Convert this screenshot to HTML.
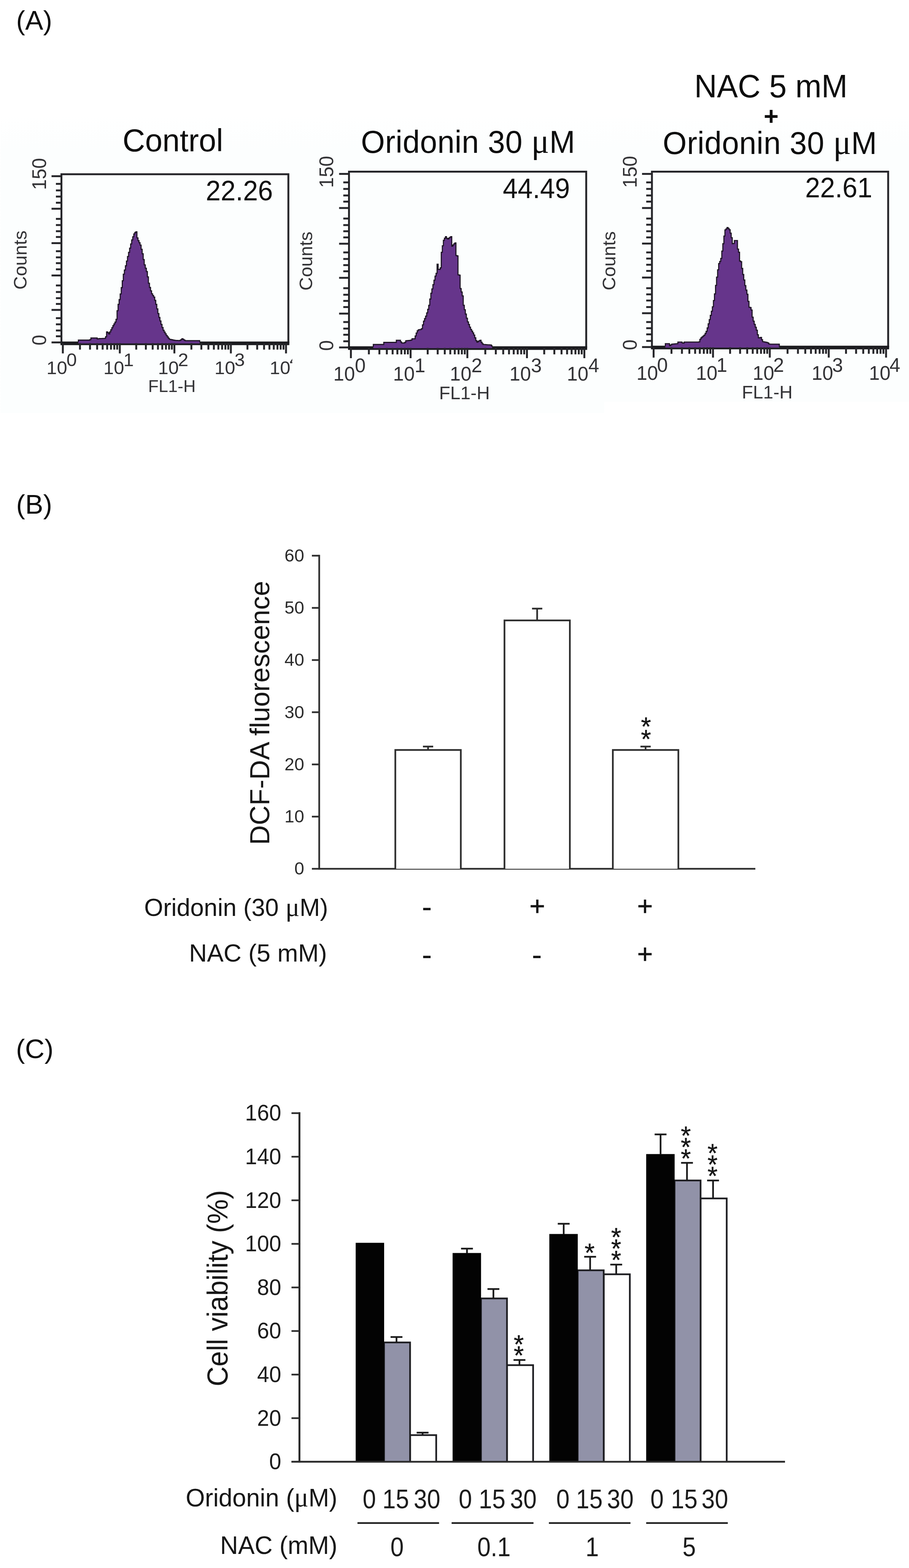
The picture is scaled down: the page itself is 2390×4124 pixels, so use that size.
<!DOCTYPE html>
<html lang="en">
<head>
<meta charset="utf-8">
<title>Oridonin, NAC and ROS: DCF-DA fluorescence and cell viability</title>
<style>
html, body { margin: 0; padding: 0; background: #ffffff; }
body { width: 2390px; height: 4124px; }
svg { display: block; font-family: "Liberation Sans", sans-serif; }
svg text { white-space: pre; }
</style>
</head>
<body>
<svg width="2390" height="4124" viewBox="0 0 2390 4124" role="img" aria-label="Figure: oridonin-induced ROS and cell viability with NAC">
<rect x="0" y="0" width="2390" height="4124" fill="#ffffff"/>
<defs><linearGradient id="bgA" x1="0" y1="0" x2="0" y2="1"><stop offset="0" stop-color="#ffffff"/><stop offset="0.12" stop-color="#fcfefe"/><stop offset="1" stop-color="#fcfefe"/></linearGradient></defs>
<rect x="1.5" y="300" width="1587" height="786" fill="url(#bgA)"/>
<rect x="1588" y="300" width="802" height="756" fill="url(#bgA)"/>
<text x="42.5" y="77.8" font-size="71" text-anchor="start" fill="#0d0d0d" font-weight="normal">(A)</text>
<text transform="translate(322.3 398.3) scale(1 1.02)" font-size="82" text-anchor="start" fill="#0d0d0d" font-weight="normal">Control</text>
<text transform="translate(949.0 402.3) scale(1 1.03)" font-size="81" text-anchor="start" fill="#0d0d0d" font-weight="normal" textLength="563" lengthAdjust="spacing">Oridonin 30 <tspan font-family='"Liberation Serif", "DejaVu Serif", serif' font-size="1.08em">μ</tspan>M</text>
<text transform="translate(2027.0 256.4) scale(1 1.04)" font-size="82.4" text-anchor="middle" fill="#0d0d0d" font-weight="normal">NAC 5 mM</text>
<text x="2027.6" y="327.7" font-size="67" text-anchor="middle" fill="#0d0d0d" font-weight="bold">+</text>
<text transform="translate(1742.6 404.8) scale(1 1.03)" font-size="81" text-anchor="start" fill="#0d0d0d" font-weight="normal" textLength="563" lengthAdjust="spacing">Oridonin 30 <tspan font-family='"Liberation Serif", "DejaVu Serif", serif' font-size="1.08em">μ</tspan>M</text>
<defs><clipPath id="clipA1"><rect x="0" y="900" width="768.5" height="200"/></clipPath></defs>
<path d="M161.5 902.5 L161.5 458.3 L758.2 458.3 L758.2 902.5" fill="none" stroke="#26262a" stroke-width="5"/>
<line x1="159.0" y1="903.0" x2="760.7" y2="903.0" stroke="#1b1b1f" stroke-width="9.5" stroke-linecap="butt"/>
<polygon points="206.0,903.3 206.0,894.5 208.8,894.5 208.8,894.5 211.5,894.5 211.5,894.5 214.2,894.5 214.2,894.5 217.0,894.5 217.0,894.5 219.8,894.5 219.8,894.5 222.5,894.5 222.5,894.5 225.2,894.5 225.2,894.5 228.0,894.5 228.0,894.5 230.8,894.5 230.8,894.5 233.5,894.5 233.5,894.5 236.2,894.5 236.2,893.4 239.0,893.4 239.0,889.0 241.8,889.0 241.8,889.0 244.5,889.0 244.5,889.0 247.2,889.0 247.2,889.0 250.0,889.0 250.0,889.0 252.8,889.0 252.8,889.0 255.5,889.0 255.5,891.4 258.2,891.4 258.2,890.9 261.0,890.9 261.0,890.5 263.8,890.5 263.8,890.4 266.5,890.4 266.5,890.3 269.2,890.3 269.2,890.2 272.0,890.2 272.0,890.1 274.8,890.1 274.8,889.8 277.5,889.8 277.5,885.7 280.2,885.7 280.2,873.0 283.0,873.0 283.0,875.0 285.8,875.0 285.8,878.4 288.5,878.4 288.5,872.9 291.2,872.9 291.2,867.4 294.0,867.4 294.0,861.9 296.8,861.9 296.8,856.5 299.5,856.5 299.5,851.8 302.2,851.8 302.2,847.1 305.0,847.1 305.0,839.9 307.8,839.9 307.8,817.1 310.5,817.1 310.5,800.3 313.2,800.3 313.2,788.0 316.0,788.0 316.0,773.2 318.8,773.2 318.8,756.5 321.5,756.5 321.5,738.4 324.2,738.4 324.2,721.2 327.0,721.2 327.0,710.2 329.8,710.2 329.8,699.0 332.5,699.0 332.5,686.7 335.2,686.7 335.2,674.6 338.0,674.6 338.0,663.7 340.8,663.7 340.8,652.7 343.5,652.7 343.5,641.7 346.2,641.7 346.2,631.0 349.0,631.0 349.0,622.7 351.8,622.7 351.8,615.1 354.5,615.1 354.5,611.5 357.2,611.5 357.2,609.6 360.0,609.6 360.0,625.6 362.8,625.6 362.8,632.9 365.5,632.9 365.5,638.4 368.2,638.4 368.2,644.7 371.0,644.7 371.0,655.7 373.8,655.7 373.8,667.4 376.5,667.4 376.5,682.6 379.2,682.6 379.2,696.7 382.0,696.7 382.0,705.4 384.8,705.4 384.8,714.2 387.5,714.2 387.5,728.2 390.2,728.2 390.2,744.8 393.0,744.8 393.0,756.0 395.8,756.0 395.8,764.8 398.5,764.8 398.5,772.7 401.2,772.7 401.2,777.1 404.0,777.1 404.0,781.4 406.8,781.4 406.8,790.0 409.5,790.0 409.5,800.5 412.2,800.5 412.2,812.4 415.0,812.4 415.0,824.7 417.8,824.7 417.8,834.8 420.5,834.8 420.5,844.1 423.2,844.1 423.2,853.1 426.0,853.1 426.0,861.3 428.8,861.3 428.8,868.7 431.5,868.7 431.5,873.3 434.2,873.3 434.2,877.9 437.0,877.9 437.0,882.3 439.8,882.3 439.8,886.0 442.5,886.0 442.5,889.6 445.2,889.6 445.2,892.4 448.0,892.4 448.0,893.0 450.8,893.0 450.8,893.5 453.5,893.5 453.5,894.1 456.2,894.1 456.2,894.6 459.0,894.6 459.0,895.1 461.8,895.1 461.8,895.3 464.5,895.3 464.5,895.5 467.2,895.5 467.2,895.7 470.0,895.7 470.0,895.9 472.8,895.9 472.8,895.2 475.5,895.2 475.5,893.2 478.2,893.2 478.2,891.0 481.0,891.0 481.0,892.7 483.8,892.7 483.8,894.7 486.5,894.7 486.5,896.0 489.2,896.0 489.2,896.0 492.0,896.0 492.0,896.0 494.8,896.0 494.8,896.0 497.5,896.0 497.5,896.0 500.2,896.0 500.2,896.0 503.0,896.0 503.0,896.0 505.8,896.0 505.8,896.0 508.5,896.0 508.5,896.0 511.2,896.0 511.2,896.0 514.0,896.0 514.0,896.0 516.8,896.0 516.8,896.0 519.5,896.0 519.5,896.0 522.2,896.0 522.2,896.0 525.0,896.0 525.0,903.3" fill="#66358b"/><polyline points="206.0,899.5 206.0,894.5 208.8,894.5 208.8,894.5 211.5,894.5 211.5,894.5 214.2,894.5 214.2,894.5 217.0,894.5 217.0,894.5 219.8,894.5 219.8,894.5 222.5,894.5 222.5,894.5 225.2,894.5 225.2,894.5 228.0,894.5 228.0,894.5 230.8,894.5 230.8,894.5 233.5,894.5 233.5,894.5 236.2,894.5 236.2,893.4 239.0,893.4 239.0,889.0 241.8,889.0 241.8,889.0 244.5,889.0 244.5,889.0 247.2,889.0 247.2,889.0 250.0,889.0 250.0,889.0 252.8,889.0 252.8,889.0 255.5,889.0 255.5,891.4 258.2,891.4 258.2,890.9 261.0,890.9 261.0,890.5 263.8,890.5 263.8,890.4 266.5,890.4 266.5,890.3 269.2,890.3 269.2,890.2 272.0,890.2 272.0,890.1 274.8,890.1 274.8,889.8 277.5,889.8 277.5,885.7 280.2,885.7 280.2,873.0 283.0,873.0 283.0,875.0 285.8,875.0 285.8,878.4 288.5,878.4 288.5,872.9 291.2,872.9 291.2,867.4 294.0,867.4 294.0,861.9 296.8,861.9 296.8,856.5 299.5,856.5 299.5,851.8 302.2,851.8 302.2,847.1 305.0,847.1 305.0,839.9 307.8,839.9 307.8,817.1 310.5,817.1 310.5,800.3 313.2,800.3 313.2,788.0 316.0,788.0 316.0,773.2 318.8,773.2 318.8,756.5 321.5,756.5 321.5,738.4 324.2,738.4 324.2,721.2 327.0,721.2 327.0,710.2 329.8,710.2 329.8,699.0 332.5,699.0 332.5,686.7 335.2,686.7 335.2,674.6 338.0,674.6 338.0,663.7 340.8,663.7 340.8,652.7 343.5,652.7 343.5,641.7 346.2,641.7 346.2,631.0 349.0,631.0 349.0,622.7 351.8,622.7 351.8,615.1 354.5,615.1 354.5,611.5 357.2,611.5 357.2,609.6 360.0,609.6 360.0,625.6 362.8,625.6 362.8,632.9 365.5,632.9 365.5,638.4 368.2,638.4 368.2,644.7 371.0,644.7 371.0,655.7 373.8,655.7 373.8,667.4 376.5,667.4 376.5,682.6 379.2,682.6 379.2,696.7 382.0,696.7 382.0,705.4 384.8,705.4 384.8,714.2 387.5,714.2 387.5,728.2 390.2,728.2 390.2,744.8 393.0,744.8 393.0,756.0 395.8,756.0 395.8,764.8 398.5,764.8 398.5,772.7 401.2,772.7 401.2,777.1 404.0,777.1 404.0,781.4 406.8,781.4 406.8,790.0 409.5,790.0 409.5,800.5 412.2,800.5 412.2,812.4 415.0,812.4 415.0,824.7 417.8,824.7 417.8,834.8 420.5,834.8 420.5,844.1 423.2,844.1 423.2,853.1 426.0,853.1 426.0,861.3 428.8,861.3 428.8,868.7 431.5,868.7 431.5,873.3 434.2,873.3 434.2,877.9 437.0,877.9 437.0,882.3 439.8,882.3 439.8,886.0 442.5,886.0 442.5,889.6 445.2,889.6 445.2,892.4 448.0,892.4 448.0,893.0 450.8,893.0 450.8,893.5 453.5,893.5 453.5,894.1 456.2,894.1 456.2,894.6 459.0,894.6 459.0,895.1 461.8,895.1 461.8,895.3 464.5,895.3 464.5,895.5 467.2,895.5 467.2,895.7 470.0,895.7 470.0,895.9 472.8,895.9 472.8,895.2 475.5,895.2 475.5,893.2 478.2,893.2 478.2,891.0 481.0,891.0 481.0,892.7 483.8,892.7 483.8,894.7 486.5,894.7 486.5,896.0 489.2,896.0 489.2,896.0 492.0,896.0 492.0,896.0 494.8,896.0 494.8,896.0 497.5,896.0 497.5,896.0 500.2,896.0 500.2,896.0 503.0,896.0 503.0,896.0 505.8,896.0 505.8,896.0 508.5,896.0 508.5,896.0 511.2,896.0 511.2,896.0 514.0,896.0 514.0,896.0 516.8,896.0 516.8,896.0 519.5,896.0 519.5,896.0 522.2,896.0 522.2,896.0 525.0,896.0 525.0,899.5" fill="none" stroke="#1d1424" stroke-width="2.8" stroke-linejoin="miter"/>
<line x1="135.5" y1="463.4" x2="161.5" y2="463.4" stroke="#26262a" stroke-width="5" stroke-linecap="butt"/>
<line x1="147.0" y1="483.6" x2="161.5" y2="483.6" stroke="#26262a" stroke-width="5" stroke-linecap="butt"/>
<line x1="147.0" y1="500.8" x2="161.5" y2="500.8" stroke="#26262a" stroke-width="5" stroke-linecap="butt"/>
<line x1="147.0" y1="517.0" x2="161.5" y2="517.0" stroke="#26262a" stroke-width="5" stroke-linecap="butt"/>
<line x1="147.0" y1="533.2" x2="161.5" y2="533.2" stroke="#26262a" stroke-width="5" stroke-linecap="butt"/>
<line x1="135.5" y1="549.0" x2="161.5" y2="549.0" stroke="#26262a" stroke-width="5" stroke-linecap="butt"/>
<line x1="147.0" y1="575.7" x2="161.5" y2="575.7" stroke="#26262a" stroke-width="5" stroke-linecap="butt"/>
<line x1="147.0" y1="591.9" x2="161.5" y2="591.9" stroke="#26262a" stroke-width="5" stroke-linecap="butt"/>
<line x1="147.0" y1="608.1" x2="161.5" y2="608.1" stroke="#26262a" stroke-width="5" stroke-linecap="butt"/>
<line x1="147.0" y1="623.3" x2="161.5" y2="623.3" stroke="#26262a" stroke-width="5" stroke-linecap="butt"/>
<line x1="135.5" y1="639.5" x2="161.5" y2="639.5" stroke="#26262a" stroke-width="5" stroke-linecap="butt"/>
<line x1="147.0" y1="660.7" x2="161.5" y2="660.7" stroke="#26262a" stroke-width="5" stroke-linecap="butt"/>
<line x1="147.0" y1="676.9" x2="161.5" y2="676.9" stroke="#26262a" stroke-width="5" stroke-linecap="butt"/>
<line x1="147.0" y1="692.1" x2="161.5" y2="692.1" stroke="#26262a" stroke-width="5" stroke-linecap="butt"/>
<line x1="147.0" y1="708.3" x2="161.5" y2="708.3" stroke="#26262a" stroke-width="5" stroke-linecap="butt"/>
<line x1="135.5" y1="724.5" x2="161.5" y2="724.5" stroke="#26262a" stroke-width="5" stroke-linecap="butt"/>
<line x1="147.0" y1="750.8" x2="161.5" y2="750.8" stroke="#26262a" stroke-width="5" stroke-linecap="butt"/>
<line x1="147.0" y1="768.0" x2="161.5" y2="768.0" stroke="#26262a" stroke-width="5" stroke-linecap="butt"/>
<line x1="147.0" y1="784.2" x2="161.5" y2="784.2" stroke="#26262a" stroke-width="5" stroke-linecap="butt"/>
<line x1="147.0" y1="799.4" x2="161.5" y2="799.4" stroke="#26262a" stroke-width="5" stroke-linecap="butt"/>
<line x1="135.5" y1="815.1" x2="161.5" y2="815.1" stroke="#26262a" stroke-width="5" stroke-linecap="butt"/>
<line x1="147.0" y1="836.8" x2="161.5" y2="836.8" stroke="#26262a" stroke-width="5" stroke-linecap="butt"/>
<line x1="147.0" y1="853.0" x2="161.5" y2="853.0" stroke="#26262a" stroke-width="5" stroke-linecap="butt"/>
<line x1="147.0" y1="869.2" x2="161.5" y2="869.2" stroke="#26262a" stroke-width="5" stroke-linecap="butt"/>
<line x1="147.0" y1="884.4" x2="161.5" y2="884.4" stroke="#26262a" stroke-width="5" stroke-linecap="butt"/>
<line x1="135.5" y1="900.6" x2="161.5" y2="900.6" stroke="#26262a" stroke-width="5" stroke-linecap="butt"/>
<line x1="165.2" y1="902.5" x2="165.2" y2="929.5" stroke="#26262a" stroke-width="5" stroke-linecap="butt"/>
<line x1="210.3" y1="902.5" x2="210.3" y2="919.5" stroke="#26262a" stroke-width="5" stroke-linecap="butt"/>
<line x1="236.7" y1="902.5" x2="236.7" y2="919.5" stroke="#26262a" stroke-width="5" stroke-linecap="butt"/>
<line x1="255.4" y1="902.5" x2="255.4" y2="919.5" stroke="#26262a" stroke-width="5" stroke-linecap="butt"/>
<line x1="269.9" y1="902.5" x2="269.9" y2="919.5" stroke="#26262a" stroke-width="5" stroke-linecap="butt"/>
<line x1="281.8" y1="902.5" x2="281.8" y2="919.5" stroke="#26262a" stroke-width="5" stroke-linecap="butt"/>
<line x1="291.8" y1="902.5" x2="291.8" y2="919.5" stroke="#26262a" stroke-width="5" stroke-linecap="butt"/>
<line x1="300.5" y1="902.5" x2="300.5" y2="919.5" stroke="#26262a" stroke-width="5" stroke-linecap="butt"/>
<line x1="308.1" y1="902.5" x2="308.1" y2="919.5" stroke="#26262a" stroke-width="5" stroke-linecap="butt"/>
<line x1="315.0" y1="902.5" x2="315.0" y2="929.5" stroke="#26262a" stroke-width="5" stroke-linecap="butt"/>
<line x1="358.2" y1="902.5" x2="358.2" y2="919.5" stroke="#26262a" stroke-width="5" stroke-linecap="butt"/>
<line x1="383.5" y1="902.5" x2="383.5" y2="919.5" stroke="#26262a" stroke-width="5" stroke-linecap="butt"/>
<line x1="401.4" y1="902.5" x2="401.4" y2="919.5" stroke="#26262a" stroke-width="5" stroke-linecap="butt"/>
<line x1="415.3" y1="902.5" x2="415.3" y2="919.5" stroke="#26262a" stroke-width="5" stroke-linecap="butt"/>
<line x1="426.7" y1="902.5" x2="426.7" y2="919.5" stroke="#26262a" stroke-width="5" stroke-linecap="butt"/>
<line x1="436.3" y1="902.5" x2="436.3" y2="919.5" stroke="#26262a" stroke-width="5" stroke-linecap="butt"/>
<line x1="444.6" y1="902.5" x2="444.6" y2="919.5" stroke="#26262a" stroke-width="5" stroke-linecap="butt"/>
<line x1="451.9" y1="902.5" x2="451.9" y2="919.5" stroke="#26262a" stroke-width="5" stroke-linecap="butt"/>
<line x1="458.5" y1="902.5" x2="458.5" y2="929.5" stroke="#26262a" stroke-width="5" stroke-linecap="butt"/>
<line x1="503.2" y1="902.5" x2="503.2" y2="919.5" stroke="#26262a" stroke-width="5" stroke-linecap="butt"/>
<line x1="529.4" y1="902.5" x2="529.4" y2="919.5" stroke="#26262a" stroke-width="5" stroke-linecap="butt"/>
<line x1="547.9" y1="902.5" x2="547.9" y2="919.5" stroke="#26262a" stroke-width="5" stroke-linecap="butt"/>
<line x1="562.3" y1="902.5" x2="562.3" y2="919.5" stroke="#26262a" stroke-width="5" stroke-linecap="butt"/>
<line x1="574.1" y1="902.5" x2="574.1" y2="919.5" stroke="#26262a" stroke-width="5" stroke-linecap="butt"/>
<line x1="584.0" y1="902.5" x2="584.0" y2="919.5" stroke="#26262a" stroke-width="5" stroke-linecap="butt"/>
<line x1="592.6" y1="902.5" x2="592.6" y2="919.5" stroke="#26262a" stroke-width="5" stroke-linecap="butt"/>
<line x1="600.2" y1="902.5" x2="600.2" y2="919.5" stroke="#26262a" stroke-width="5" stroke-linecap="butt"/>
<line x1="607.0" y1="902.5" x2="607.0" y2="929.5" stroke="#26262a" stroke-width="5" stroke-linecap="butt"/>
<line x1="650.6" y1="902.5" x2="650.6" y2="919.5" stroke="#26262a" stroke-width="5" stroke-linecap="butt"/>
<line x1="676.2" y1="902.5" x2="676.2" y2="919.5" stroke="#26262a" stroke-width="5" stroke-linecap="butt"/>
<line x1="694.3" y1="902.5" x2="694.3" y2="919.5" stroke="#26262a" stroke-width="5" stroke-linecap="butt"/>
<line x1="708.4" y1="902.5" x2="708.4" y2="919.5" stroke="#26262a" stroke-width="5" stroke-linecap="butt"/>
<line x1="719.8" y1="902.5" x2="719.8" y2="919.5" stroke="#26262a" stroke-width="5" stroke-linecap="butt"/>
<line x1="729.5" y1="902.5" x2="729.5" y2="919.5" stroke="#26262a" stroke-width="5" stroke-linecap="butt"/>
<line x1="737.9" y1="902.5" x2="737.9" y2="919.5" stroke="#26262a" stroke-width="5" stroke-linecap="butt"/>
<line x1="745.4" y1="902.5" x2="745.4" y2="919.5" stroke="#26262a" stroke-width="5" stroke-linecap="butt"/>
<line x1="752.0" y1="902.5" x2="752.0" y2="929.5" stroke="#26262a" stroke-width="5" stroke-linecap="butt"/>
<g>
<text x="122.2" y="984.0" font-size="49" text-anchor="start" fill="#333336" font-weight="normal">10<tspan x="174.7" dy="-21.5">0</tspan></text>
</g>
<g>
<text x="272.0" y="984.0" font-size="49" text-anchor="start" fill="#333336" font-weight="normal">10<tspan x="324.5" dy="-21.5">1</tspan></text>
</g>
<g>
<text x="415.5" y="984.0" font-size="49" text-anchor="start" fill="#333336" font-weight="normal">10<tspan x="468.0" dy="-21.5">2</tspan></text>
</g>
<g>
<text x="564.0" y="984.0" font-size="49" text-anchor="start" fill="#333336" font-weight="normal">10<tspan x="616.5" dy="-21.5">3</tspan></text>
</g>
<g clip-path="url(#clipA1)">
<text x="709.0" y="984.0" font-size="49" text-anchor="start" fill="#333336" font-weight="normal">10<tspan x="761.5" dy="-21.5">4</tspan></text>
</g>
<text x="389.5" y="1030.7" font-size="45" text-anchor="start" fill="#333336" font-weight="normal">FL1-H</text>
<text transform="translate(69.5 684.0) rotate(-90)" font-size="49" text-anchor="middle" fill="#333336" font-weight="normal">Counts</text>
<text transform="translate(121.0 457.5) rotate(-90) scale(1 1.04)" font-size="50.5" text-anchor="middle" fill="#333336" font-weight="normal">150</text>
<text transform="translate(121.0 894.5) rotate(-90) scale(1 1.04)" font-size="50.5" text-anchor="middle" fill="#333336" font-weight="normal">0</text>
<text transform="translate(717.5 527.0) scale(1 1.04)" font-size="70.5" text-anchor="end" fill="#111" font-weight="normal">22.26</text>
<path d="M917.6 915.0 L917.6 451.6 L1541.3 451.6 L1541.3 915.0" fill="none" stroke="#26262a" stroke-width="5"/>
<line x1="915.1" y1="915.5" x2="1543.8" y2="915.5" stroke="#1b1b1f" stroke-width="9.5" stroke-linecap="butt"/>
<polygon points="981.5,915.8 981.5,906.0 984.2,906.0 984.2,906.0 987.0,906.0 987.0,906.0 989.8,906.0 989.8,906.0 992.5,906.0 992.5,906.0 995.2,906.0 995.2,906.0 998.0,906.0 998.0,906.0 1000.8,906.0 1000.8,906.0 1003.5,906.0 1003.5,906.0 1006.2,906.0 1006.2,906.0 1009.0,906.0 1009.0,900.5 1011.8,900.5 1011.8,900.5 1014.5,900.5 1014.5,900.5 1017.2,900.5 1017.2,900.5 1020.0,900.5 1020.0,900.5 1022.8,900.5 1022.8,900.5 1025.5,900.5 1025.5,900.5 1028.2,900.5 1028.2,900.5 1031.0,900.5 1031.0,900.5 1033.8,900.5 1033.8,900.5 1036.5,900.5 1036.5,900.5 1039.2,900.5 1039.2,900.5 1042.0,900.5 1042.0,895.0 1044.8,895.0 1044.8,895.0 1047.5,895.0 1047.5,895.0 1050.2,895.0 1050.2,895.0 1053.0,895.0 1053.0,899.2 1055.8,899.2 1055.8,902.0 1058.5,902.0 1058.5,902.0 1061.2,902.0 1061.2,902.0 1064.0,902.0 1064.0,900.5 1066.8,900.5 1066.8,896.2 1069.5,896.2 1069.5,896.0 1072.2,896.0 1072.2,895.7 1075.0,895.7 1075.0,895.5 1077.8,895.5 1077.8,895.2 1080.5,895.2 1080.5,894.4 1083.2,894.4 1083.2,891.0 1086.0,891.0 1086.0,891.0 1088.8,891.0 1088.8,891.0 1091.5,891.0 1091.5,883.6 1094.2,883.6 1094.2,875.9 1097.0,875.9 1097.0,869.8 1099.8,869.8 1099.8,867.4 1102.5,867.4 1102.5,867.0 1105.2,867.0 1105.2,866.6 1108.0,866.6 1108.0,864.5 1110.8,864.5 1110.8,854.3 1113.5,854.3 1113.5,844.6 1116.2,844.6 1116.2,838.0 1119.0,838.0 1119.0,831.3 1121.8,831.3 1121.8,822.8 1124.5,822.8 1124.5,813.5 1127.2,813.5 1127.2,802.9 1130.0,802.9 1130.0,786.5 1132.8,786.5 1132.8,771.1 1135.5,771.1 1135.5,759.9 1138.2,759.9 1138.2,748.6 1141.0,748.6 1141.0,736.9 1143.8,736.9 1143.8,726.2 1146.5,726.2 1146.5,718.9 1149.2,718.9 1149.2,695.0 1152.0,695.0 1152.0,708.6 1154.8,708.6 1154.8,708.5 1157.5,708.5 1157.5,704.4 1160.2,704.4 1160.2,663.7 1163.0,663.7 1163.0,646.3 1165.8,646.3 1165.8,632.0 1168.5,632.0 1168.5,626.5 1171.2,626.5 1171.2,622.5 1174.0,622.5 1174.0,626.8 1176.8,626.8 1176.8,628.7 1179.5,628.7 1179.5,626.4 1182.2,626.4 1182.2,624.1 1185.0,624.1 1185.0,622.5 1187.8,622.5 1187.8,647.7 1190.5,647.7 1190.5,644.4 1193.2,644.4 1193.2,641.2 1196.0,641.2 1196.0,638.9 1198.8,638.9 1198.8,672.1 1201.5,672.1 1201.5,673.0 1204.2,673.0 1204.2,722.8 1207.0,722.8 1207.0,723.6 1209.8,723.6 1209.8,758.8 1212.5,758.8 1212.5,767.8 1215.2,767.8 1215.2,778.2 1218.0,778.2 1218.0,802.9 1220.8,802.9 1220.8,814.6 1223.5,814.6 1223.5,826.0 1226.2,826.0 1226.2,836.9 1229.0,836.9 1229.0,846.6 1231.8,846.6 1231.8,853.5 1234.5,853.5 1234.5,860.3 1237.2,860.3 1237.2,866.4 1240.0,866.4 1240.0,871.0 1242.8,871.0 1242.8,875.6 1245.5,875.6 1245.5,881.2 1248.2,881.2 1248.2,888.5 1251.0,888.5 1251.0,895.9 1253.8,895.9 1253.8,899.8 1256.5,899.8 1256.5,898.0 1259.2,898.0 1259.2,896.1 1262.0,896.1 1262.0,895.0 1264.8,895.0 1264.8,900.1 1267.5,900.1 1267.5,903.8 1270.2,903.8 1270.2,906.1 1273.0,906.1 1273.0,906.2 1275.8,906.2 1275.8,906.4 1278.5,906.4 1278.5,906.6 1281.2,906.6 1281.2,906.8 1284.0,906.8 1284.0,906.9 1286.8,906.9 1286.8,907.1 1289.5,907.1 1289.5,907.3 1292.2,907.3 1292.2,909.6 1293.8,909.6 1293.8,915.8" fill="#66358b"/><polyline points="981.5,912.0 981.5,906.0 984.2,906.0 984.2,906.0 987.0,906.0 987.0,906.0 989.8,906.0 989.8,906.0 992.5,906.0 992.5,906.0 995.2,906.0 995.2,906.0 998.0,906.0 998.0,906.0 1000.8,906.0 1000.8,906.0 1003.5,906.0 1003.5,906.0 1006.2,906.0 1006.2,906.0 1009.0,906.0 1009.0,900.5 1011.8,900.5 1011.8,900.5 1014.5,900.5 1014.5,900.5 1017.2,900.5 1017.2,900.5 1020.0,900.5 1020.0,900.5 1022.8,900.5 1022.8,900.5 1025.5,900.5 1025.5,900.5 1028.2,900.5 1028.2,900.5 1031.0,900.5 1031.0,900.5 1033.8,900.5 1033.8,900.5 1036.5,900.5 1036.5,900.5 1039.2,900.5 1039.2,900.5 1042.0,900.5 1042.0,895.0 1044.8,895.0 1044.8,895.0 1047.5,895.0 1047.5,895.0 1050.2,895.0 1050.2,895.0 1053.0,895.0 1053.0,899.2 1055.8,899.2 1055.8,902.0 1058.5,902.0 1058.5,902.0 1061.2,902.0 1061.2,902.0 1064.0,902.0 1064.0,900.5 1066.8,900.5 1066.8,896.2 1069.5,896.2 1069.5,896.0 1072.2,896.0 1072.2,895.7 1075.0,895.7 1075.0,895.5 1077.8,895.5 1077.8,895.2 1080.5,895.2 1080.5,894.4 1083.2,894.4 1083.2,891.0 1086.0,891.0 1086.0,891.0 1088.8,891.0 1088.8,891.0 1091.5,891.0 1091.5,883.6 1094.2,883.6 1094.2,875.9 1097.0,875.9 1097.0,869.8 1099.8,869.8 1099.8,867.4 1102.5,867.4 1102.5,867.0 1105.2,867.0 1105.2,866.6 1108.0,866.6 1108.0,864.5 1110.8,864.5 1110.8,854.3 1113.5,854.3 1113.5,844.6 1116.2,844.6 1116.2,838.0 1119.0,838.0 1119.0,831.3 1121.8,831.3 1121.8,822.8 1124.5,822.8 1124.5,813.5 1127.2,813.5 1127.2,802.9 1130.0,802.9 1130.0,786.5 1132.8,786.5 1132.8,771.1 1135.5,771.1 1135.5,759.9 1138.2,759.9 1138.2,748.6 1141.0,748.6 1141.0,736.9 1143.8,736.9 1143.8,726.2 1146.5,726.2 1146.5,718.9 1149.2,718.9 1149.2,695.0 1152.0,695.0 1152.0,708.6 1154.8,708.6 1154.8,708.5 1157.5,708.5 1157.5,704.4 1160.2,704.4 1160.2,663.7 1163.0,663.7 1163.0,646.3 1165.8,646.3 1165.8,632.0 1168.5,632.0 1168.5,626.5 1171.2,626.5 1171.2,622.5 1174.0,622.5 1174.0,626.8 1176.8,626.8 1176.8,628.7 1179.5,628.7 1179.5,626.4 1182.2,626.4 1182.2,624.1 1185.0,624.1 1185.0,622.5 1187.8,622.5 1187.8,647.7 1190.5,647.7 1190.5,644.4 1193.2,644.4 1193.2,641.2 1196.0,641.2 1196.0,638.9 1198.8,638.9 1198.8,672.1 1201.5,672.1 1201.5,673.0 1204.2,673.0 1204.2,722.8 1207.0,722.8 1207.0,723.6 1209.8,723.6 1209.8,758.8 1212.5,758.8 1212.5,767.8 1215.2,767.8 1215.2,778.2 1218.0,778.2 1218.0,802.9 1220.8,802.9 1220.8,814.6 1223.5,814.6 1223.5,826.0 1226.2,826.0 1226.2,836.9 1229.0,836.9 1229.0,846.6 1231.8,846.6 1231.8,853.5 1234.5,853.5 1234.5,860.3 1237.2,860.3 1237.2,866.4 1240.0,866.4 1240.0,871.0 1242.8,871.0 1242.8,875.6 1245.5,875.6 1245.5,881.2 1248.2,881.2 1248.2,888.5 1251.0,888.5 1251.0,895.9 1253.8,895.9 1253.8,899.8 1256.5,899.8 1256.5,898.0 1259.2,898.0 1259.2,896.1 1262.0,896.1 1262.0,895.0 1264.8,895.0 1264.8,900.1 1267.5,900.1 1267.5,903.8 1270.2,903.8 1270.2,906.1 1273.0,906.1 1273.0,906.2 1275.8,906.2 1275.8,906.4 1278.5,906.4 1278.5,906.6 1281.2,906.6 1281.2,906.8 1284.0,906.8 1284.0,906.9 1286.8,906.9 1286.8,907.1 1289.5,907.1 1289.5,907.3 1292.2,907.3 1292.2,909.6 1293.8,909.6 1293.8,912.0" fill="none" stroke="#1d1424" stroke-width="2.8" stroke-linejoin="miter"/>
<line x1="891.6" y1="457.4" x2="917.6" y2="457.4" stroke="#26262a" stroke-width="5" stroke-linecap="butt"/>
<line x1="902.6" y1="479.7" x2="917.6" y2="479.7" stroke="#26262a" stroke-width="5" stroke-linecap="butt"/>
<line x1="902.6" y1="496.9" x2="917.6" y2="496.9" stroke="#26262a" stroke-width="5" stroke-linecap="butt"/>
<line x1="902.6" y1="514.1" x2="917.6" y2="514.1" stroke="#26262a" stroke-width="5" stroke-linecap="butt"/>
<line x1="902.6" y1="530.3" x2="917.6" y2="530.3" stroke="#26262a" stroke-width="5" stroke-linecap="butt"/>
<line x1="891.6" y1="547.1" x2="917.6" y2="547.1" stroke="#26262a" stroke-width="5" stroke-linecap="butt"/>
<line x1="902.6" y1="574.8" x2="917.6" y2="574.8" stroke="#26262a" stroke-width="5" stroke-linecap="butt"/>
<line x1="902.6" y1="592.0" x2="917.6" y2="592.0" stroke="#26262a" stroke-width="5" stroke-linecap="butt"/>
<line x1="902.6" y1="608.2" x2="917.6" y2="608.2" stroke="#26262a" stroke-width="5" stroke-linecap="butt"/>
<line x1="902.6" y1="624.4" x2="917.6" y2="624.4" stroke="#26262a" stroke-width="5" stroke-linecap="butt"/>
<line x1="891.6" y1="641.0" x2="917.6" y2="641.0" stroke="#26262a" stroke-width="5" stroke-linecap="butt"/>
<line x1="902.6" y1="663.9" x2="917.6" y2="663.9" stroke="#26262a" stroke-width="5" stroke-linecap="butt"/>
<line x1="902.6" y1="681.1" x2="917.6" y2="681.1" stroke="#26262a" stroke-width="5" stroke-linecap="butt"/>
<line x1="902.6" y1="697.3" x2="917.6" y2="697.3" stroke="#26262a" stroke-width="5" stroke-linecap="butt"/>
<line x1="902.6" y1="713.5" x2="917.6" y2="713.5" stroke="#26262a" stroke-width="5" stroke-linecap="butt"/>
<line x1="891.6" y1="730.7" x2="917.6" y2="730.7" stroke="#26262a" stroke-width="5" stroke-linecap="butt"/>
<line x1="902.6" y1="758.0" x2="917.6" y2="758.0" stroke="#26262a" stroke-width="5" stroke-linecap="butt"/>
<line x1="902.6" y1="775.2" x2="917.6" y2="775.2" stroke="#26262a" stroke-width="5" stroke-linecap="butt"/>
<line x1="902.6" y1="791.4" x2="917.6" y2="791.4" stroke="#26262a" stroke-width="5" stroke-linecap="butt"/>
<line x1="902.6" y1="807.6" x2="917.6" y2="807.6" stroke="#26262a" stroke-width="5" stroke-linecap="butt"/>
<line x1="891.6" y1="824.8" x2="917.6" y2="824.8" stroke="#26262a" stroke-width="5" stroke-linecap="butt"/>
<line x1="902.6" y1="847.0" x2="917.6" y2="847.0" stroke="#26262a" stroke-width="5" stroke-linecap="butt"/>
<line x1="902.6" y1="864.2" x2="917.6" y2="864.2" stroke="#26262a" stroke-width="5" stroke-linecap="butt"/>
<line x1="902.6" y1="880.4" x2="917.6" y2="880.4" stroke="#26262a" stroke-width="5" stroke-linecap="butt"/>
<line x1="902.6" y1="897.6" x2="917.6" y2="897.6" stroke="#26262a" stroke-width="5" stroke-linecap="butt"/>
<line x1="891.6" y1="913.8" x2="917.6" y2="913.8" stroke="#26262a" stroke-width="5" stroke-linecap="butt"/>
<line x1="922.6" y1="915.0" x2="922.6" y2="942.0" stroke="#26262a" stroke-width="5" stroke-linecap="butt"/>
<line x1="969.9" y1="915.0" x2="969.9" y2="932.0" stroke="#26262a" stroke-width="5" stroke-linecap="butt"/>
<line x1="997.5" y1="915.0" x2="997.5" y2="932.0" stroke="#26262a" stroke-width="5" stroke-linecap="butt"/>
<line x1="1017.1" y1="915.0" x2="1017.1" y2="932.0" stroke="#26262a" stroke-width="5" stroke-linecap="butt"/>
<line x1="1032.3" y1="915.0" x2="1032.3" y2="932.0" stroke="#26262a" stroke-width="5" stroke-linecap="butt"/>
<line x1="1044.8" y1="915.0" x2="1044.8" y2="932.0" stroke="#26262a" stroke-width="5" stroke-linecap="butt"/>
<line x1="1055.3" y1="915.0" x2="1055.3" y2="932.0" stroke="#26262a" stroke-width="5" stroke-linecap="butt"/>
<line x1="1064.4" y1="915.0" x2="1064.4" y2="932.0" stroke="#26262a" stroke-width="5" stroke-linecap="butt"/>
<line x1="1072.4" y1="915.0" x2="1072.4" y2="932.0" stroke="#26262a" stroke-width="5" stroke-linecap="butt"/>
<line x1="1079.6" y1="915.0" x2="1079.6" y2="942.0" stroke="#26262a" stroke-width="5" stroke-linecap="butt"/>
<line x1="1124.5" y1="915.0" x2="1124.5" y2="932.0" stroke="#26262a" stroke-width="5" stroke-linecap="butt"/>
<line x1="1150.8" y1="915.0" x2="1150.8" y2="932.0" stroke="#26262a" stroke-width="5" stroke-linecap="butt"/>
<line x1="1169.4" y1="915.0" x2="1169.4" y2="932.0" stroke="#26262a" stroke-width="5" stroke-linecap="butt"/>
<line x1="1183.9" y1="915.0" x2="1183.9" y2="932.0" stroke="#26262a" stroke-width="5" stroke-linecap="butt"/>
<line x1="1195.7" y1="915.0" x2="1195.7" y2="932.0" stroke="#26262a" stroke-width="5" stroke-linecap="butt"/>
<line x1="1205.7" y1="915.0" x2="1205.7" y2="932.0" stroke="#26262a" stroke-width="5" stroke-linecap="butt"/>
<line x1="1214.3" y1="915.0" x2="1214.3" y2="932.0" stroke="#26262a" stroke-width="5" stroke-linecap="butt"/>
<line x1="1222.0" y1="915.0" x2="1222.0" y2="932.0" stroke="#26262a" stroke-width="5" stroke-linecap="butt"/>
<line x1="1228.8" y1="915.0" x2="1228.8" y2="942.0" stroke="#26262a" stroke-width="5" stroke-linecap="butt"/>
<line x1="1276.0" y1="915.0" x2="1276.0" y2="932.0" stroke="#26262a" stroke-width="5" stroke-linecap="butt"/>
<line x1="1303.6" y1="915.0" x2="1303.6" y2="932.0" stroke="#26262a" stroke-width="5" stroke-linecap="butt"/>
<line x1="1323.1" y1="915.0" x2="1323.1" y2="932.0" stroke="#26262a" stroke-width="5" stroke-linecap="butt"/>
<line x1="1338.3" y1="915.0" x2="1338.3" y2="932.0" stroke="#26262a" stroke-width="5" stroke-linecap="butt"/>
<line x1="1350.7" y1="915.0" x2="1350.7" y2="932.0" stroke="#26262a" stroke-width="5" stroke-linecap="butt"/>
<line x1="1361.2" y1="915.0" x2="1361.2" y2="932.0" stroke="#26262a" stroke-width="5" stroke-linecap="butt"/>
<line x1="1370.3" y1="915.0" x2="1370.3" y2="932.0" stroke="#26262a" stroke-width="5" stroke-linecap="butt"/>
<line x1="1378.3" y1="915.0" x2="1378.3" y2="932.0" stroke="#26262a" stroke-width="5" stroke-linecap="butt"/>
<line x1="1385.5" y1="915.0" x2="1385.5" y2="942.0" stroke="#26262a" stroke-width="5" stroke-linecap="butt"/>
<line x1="1430.9" y1="915.0" x2="1430.9" y2="932.0" stroke="#26262a" stroke-width="5" stroke-linecap="butt"/>
<line x1="1457.5" y1="915.0" x2="1457.5" y2="932.0" stroke="#26262a" stroke-width="5" stroke-linecap="butt"/>
<line x1="1476.4" y1="915.0" x2="1476.4" y2="932.0" stroke="#26262a" stroke-width="5" stroke-linecap="butt"/>
<line x1="1491.0" y1="915.0" x2="1491.0" y2="932.0" stroke="#26262a" stroke-width="5" stroke-linecap="butt"/>
<line x1="1502.9" y1="915.0" x2="1502.9" y2="932.0" stroke="#26262a" stroke-width="5" stroke-linecap="butt"/>
<line x1="1513.0" y1="915.0" x2="1513.0" y2="932.0" stroke="#26262a" stroke-width="5" stroke-linecap="butt"/>
<line x1="1521.8" y1="915.0" x2="1521.8" y2="932.0" stroke="#26262a" stroke-width="5" stroke-linecap="butt"/>
<line x1="1529.5" y1="915.0" x2="1529.5" y2="932.0" stroke="#26262a" stroke-width="5" stroke-linecap="butt"/>
<line x1="1536.4" y1="915.0" x2="1536.4" y2="942.0" stroke="#26262a" stroke-width="5" stroke-linecap="butt"/>
<g>
<text x="876.6" y="1000.5" font-size="51" text-anchor="start" fill="#333336" font-weight="normal">10<tspan x="933.1" dy="-21.5">0</tspan></text>
</g>
<g>
<text x="1033.6" y="1000.5" font-size="51" text-anchor="start" fill="#333336" font-weight="normal">10<tspan x="1090.1" dy="-21.5">1</tspan></text>
</g>
<g>
<text x="1182.8" y="1000.5" font-size="51" text-anchor="start" fill="#333336" font-weight="normal">10<tspan x="1239.3" dy="-21.5">2</tspan></text>
</g>
<g>
<text x="1339.5" y="1000.5" font-size="51" text-anchor="start" fill="#333336" font-weight="normal">10<tspan x="1396.0" dy="-21.5">3</tspan></text>
</g>
<g>
<text x="1490.4" y="1000.5" font-size="51" text-anchor="start" fill="#333336" font-weight="normal">10<tspan x="1546.9" dy="-21.5">4</tspan></text>
</g>
<text x="1154.5" y="1049.9" font-size="48" text-anchor="start" fill="#333336" font-weight="normal">FL1-H</text>
<text transform="translate(821.0 686.6) rotate(-90)" font-size="49" text-anchor="middle" fill="#333336" font-weight="normal">Counts</text>
<text transform="translate(875.5 452.0) rotate(-90) scale(1 1.04)" font-size="50.5" text-anchor="middle" fill="#333336" font-weight="normal">150</text>
<text transform="translate(875.5 908.8) rotate(-90) scale(1 1.04)" font-size="50.5" text-anchor="middle" fill="#333336" font-weight="normal">0</text>
<text transform="translate(1498.5 520.5) scale(1 1.04)" font-size="70.5" text-anchor="end" fill="#111" font-weight="normal">44.49</text>
<path d="M1714.1 913.5 L1714.1 451.6 L2335.2 451.6 L2335.2 913.5" fill="none" stroke="#26262a" stroke-width="5"/>
<line x1="1711.6" y1="914.0" x2="2337.7" y2="914.0" stroke="#1b1b1f" stroke-width="9.5" stroke-linecap="butt"/>
<polygon points="1749.3,914.3 1749.3,903.8 1752.0,903.8 1752.0,903.8 1754.8,903.8 1754.8,903.8 1757.5,903.8 1757.5,903.8 1760.3,903.8 1760.3,909.2 1763.0,909.2 1763.0,907.2 1765.8,907.2 1765.8,905.2 1768.5,905.2 1768.5,904.9 1771.3,904.9 1771.3,904.7 1774.0,904.7 1774.0,904.4 1776.8,904.4 1776.8,904.2 1779.5,904.2 1779.5,903.9 1782.3,903.9 1782.3,899.7 1785.0,899.7 1785.0,899.7 1787.8,899.7 1787.8,899.7 1790.5,899.7 1790.5,899.7 1793.3,899.7 1793.3,901.9 1796.0,901.9 1796.0,902.3 1798.8,902.3 1798.8,899.7 1801.5,899.7 1801.5,899.7 1804.3,899.7 1804.3,899.7 1807.0,899.7 1807.0,899.7 1809.8,899.7 1809.8,899.7 1812.5,899.7 1812.5,899.7 1815.3,899.7 1815.3,899.7 1818.0,899.7 1818.0,899.7 1820.8,899.7 1820.8,899.7 1823.5,899.7 1823.5,899.7 1826.3,899.7 1826.3,899.7 1829.0,899.7 1829.0,899.7 1831.8,899.7 1831.8,899.7 1834.5,899.7 1834.5,899.7 1837.3,899.7 1837.3,899.1 1840.0,899.1 1840.0,892.6 1842.8,892.6 1842.8,888.6 1845.5,888.6 1845.5,886.2 1848.3,886.2 1848.3,883.8 1851.0,883.8 1851.0,881.4 1853.8,881.4 1853.8,877.0 1856.5,877.0 1856.5,871.5 1859.3,871.5 1859.3,862.5 1862.0,862.5 1862.0,851.6 1864.8,851.6 1864.8,840.6 1867.5,840.6 1867.5,829.5 1870.3,829.5 1870.3,818.6 1873.0,818.6 1873.0,806.8 1875.8,806.8 1875.8,790.3 1878.5,790.3 1878.5,773.0 1881.3,773.0 1881.3,750.6 1884.0,750.6 1884.0,728.9 1886.8,728.9 1886.8,709.7 1889.5,709.7 1889.5,693.2 1892.3,693.2 1892.3,687.7 1895.0,687.7 1895.0,679.6 1897.8,679.6 1897.8,660.4 1900.5,660.4 1900.5,641.0 1903.3,641.0 1903.3,620.8 1906.0,620.8 1906.0,604.6 1908.8,604.6 1908.8,601.9 1911.5,601.9 1911.5,598.4 1914.3,598.4 1914.3,600.8 1917.0,600.8 1917.0,604.2 1919.8,604.2 1919.8,613.1 1922.5,613.1 1922.5,625.2 1925.3,625.2 1925.3,640.8 1928.0,640.8 1928.0,640.4 1930.8,640.4 1930.8,632.6 1933.5,632.6 1933.5,632.6 1936.3,632.6 1936.3,632.6 1939.0,632.6 1939.0,655.2 1941.8,655.2 1941.8,663.4 1944.5,663.4 1944.5,686.5 1947.3,686.5 1947.3,688.4 1950.0,688.4 1950.0,706.0 1952.8,706.0 1952.8,722.0 1955.5,722.0 1955.5,736.5 1958.3,736.5 1958.3,751.2 1961.0,751.2 1961.0,763.0 1963.8,763.0 1963.8,773.9 1966.5,773.9 1966.5,792.7 1969.3,792.7 1969.3,808.1 1972.0,808.1 1972.0,808.8 1974.8,808.8 1974.8,815.3 1977.5,815.3 1977.5,834.2 1980.3,834.2 1980.3,844.7 1983.0,844.7 1983.0,853.1 1985.8,853.1 1985.8,860.7 1988.5,860.7 1988.5,868.3 1991.3,868.3 1991.3,880.3 1994.0,880.3 1994.0,888.6 1996.8,888.6 1996.8,888.1 1999.5,888.1 1999.5,887.4 2002.3,887.4 2002.3,893.5 2005.0,893.5 2005.0,898.6 2007.8,898.6 2007.8,899.1 2010.5,899.1 2010.5,899.7 2013.3,899.7 2013.3,900.2 2016.0,900.2 2016.0,900.8 2018.8,900.8 2018.8,902.1 2021.5,902.1 2021.5,904.8 2024.3,904.8 2024.3,905.2 2027.0,905.2 2027.0,905.2 2029.8,905.2 2029.8,905.2 2032.5,905.2 2032.5,905.2 2035.3,905.2 2035.3,905.2 2038.0,905.2 2038.0,905.2 2040.8,905.2 2040.8,905.2 2043.5,905.2 2043.5,905.2 2046.3,905.2 2046.3,905.2 2049.1,905.2 2049.1,911.4 2049.3,911.4 2049.3,914.3" fill="#66358b"/><polyline points="1749.3,910.5 1749.3,903.8 1752.0,903.8 1752.0,903.8 1754.8,903.8 1754.8,903.8 1757.5,903.8 1757.5,903.8 1760.3,903.8 1760.3,909.2 1763.0,909.2 1763.0,907.2 1765.8,907.2 1765.8,905.2 1768.5,905.2 1768.5,904.9 1771.3,904.9 1771.3,904.7 1774.0,904.7 1774.0,904.4 1776.8,904.4 1776.8,904.2 1779.5,904.2 1779.5,903.9 1782.3,903.9 1782.3,899.7 1785.0,899.7 1785.0,899.7 1787.8,899.7 1787.8,899.7 1790.5,899.7 1790.5,899.7 1793.3,899.7 1793.3,901.9 1796.0,901.9 1796.0,902.3 1798.8,902.3 1798.8,899.7 1801.5,899.7 1801.5,899.7 1804.3,899.7 1804.3,899.7 1807.0,899.7 1807.0,899.7 1809.8,899.7 1809.8,899.7 1812.5,899.7 1812.5,899.7 1815.3,899.7 1815.3,899.7 1818.0,899.7 1818.0,899.7 1820.8,899.7 1820.8,899.7 1823.5,899.7 1823.5,899.7 1826.3,899.7 1826.3,899.7 1829.0,899.7 1829.0,899.7 1831.8,899.7 1831.8,899.7 1834.5,899.7 1834.5,899.7 1837.3,899.7 1837.3,899.1 1840.0,899.1 1840.0,892.6 1842.8,892.6 1842.8,888.6 1845.5,888.6 1845.5,886.2 1848.3,886.2 1848.3,883.8 1851.0,883.8 1851.0,881.4 1853.8,881.4 1853.8,877.0 1856.5,877.0 1856.5,871.5 1859.3,871.5 1859.3,862.5 1862.0,862.5 1862.0,851.6 1864.8,851.6 1864.8,840.6 1867.5,840.6 1867.5,829.5 1870.3,829.5 1870.3,818.6 1873.0,818.6 1873.0,806.8 1875.8,806.8 1875.8,790.3 1878.5,790.3 1878.5,773.0 1881.3,773.0 1881.3,750.6 1884.0,750.6 1884.0,728.9 1886.8,728.9 1886.8,709.7 1889.5,709.7 1889.5,693.2 1892.3,693.2 1892.3,687.7 1895.0,687.7 1895.0,679.6 1897.8,679.6 1897.8,660.4 1900.5,660.4 1900.5,641.0 1903.3,641.0 1903.3,620.8 1906.0,620.8 1906.0,604.6 1908.8,604.6 1908.8,601.9 1911.5,601.9 1911.5,598.4 1914.3,598.4 1914.3,600.8 1917.0,600.8 1917.0,604.2 1919.8,604.2 1919.8,613.1 1922.5,613.1 1922.5,625.2 1925.3,625.2 1925.3,640.8 1928.0,640.8 1928.0,640.4 1930.8,640.4 1930.8,632.6 1933.5,632.6 1933.5,632.6 1936.3,632.6 1936.3,632.6 1939.0,632.6 1939.0,655.2 1941.8,655.2 1941.8,663.4 1944.5,663.4 1944.5,686.5 1947.3,686.5 1947.3,688.4 1950.0,688.4 1950.0,706.0 1952.8,706.0 1952.8,722.0 1955.5,722.0 1955.5,736.5 1958.3,736.5 1958.3,751.2 1961.0,751.2 1961.0,763.0 1963.8,763.0 1963.8,773.9 1966.5,773.9 1966.5,792.7 1969.3,792.7 1969.3,808.1 1972.0,808.1 1972.0,808.8 1974.8,808.8 1974.8,815.3 1977.5,815.3 1977.5,834.2 1980.3,834.2 1980.3,844.7 1983.0,844.7 1983.0,853.1 1985.8,853.1 1985.8,860.7 1988.5,860.7 1988.5,868.3 1991.3,868.3 1991.3,880.3 1994.0,880.3 1994.0,888.6 1996.8,888.6 1996.8,888.1 1999.5,888.1 1999.5,887.4 2002.3,887.4 2002.3,893.5 2005.0,893.5 2005.0,898.6 2007.8,898.6 2007.8,899.1 2010.5,899.1 2010.5,899.7 2013.3,899.7 2013.3,900.2 2016.0,900.2 2016.0,900.8 2018.8,900.8 2018.8,902.1 2021.5,902.1 2021.5,904.8 2024.3,904.8 2024.3,905.2 2027.0,905.2 2027.0,905.2 2029.8,905.2 2029.8,905.2 2032.5,905.2 2032.5,905.2 2035.3,905.2 2035.3,905.2 2038.0,905.2 2038.0,905.2 2040.8,905.2 2040.8,905.2 2043.5,905.2 2043.5,905.2 2046.3,905.2 2046.3,905.2 2049.1,905.2 2049.1,911.4 2049.3,911.4 2049.3,910.5" fill="none" stroke="#1d1424" stroke-width="2.8" stroke-linejoin="miter"/>
<line x1="1688.1" y1="457.4" x2="1714.1" y2="457.4" stroke="#26262a" stroke-width="5" stroke-linecap="butt"/>
<line x1="1699.1" y1="479.7" x2="1714.1" y2="479.7" stroke="#26262a" stroke-width="5" stroke-linecap="butt"/>
<line x1="1699.1" y1="496.9" x2="1714.1" y2="496.9" stroke="#26262a" stroke-width="5" stroke-linecap="butt"/>
<line x1="1699.1" y1="514.1" x2="1714.1" y2="514.1" stroke="#26262a" stroke-width="5" stroke-linecap="butt"/>
<line x1="1699.1" y1="530.3" x2="1714.1" y2="530.3" stroke="#26262a" stroke-width="5" stroke-linecap="butt"/>
<line x1="1688.1" y1="547.1" x2="1714.1" y2="547.1" stroke="#26262a" stroke-width="5" stroke-linecap="butt"/>
<line x1="1699.1" y1="574.8" x2="1714.1" y2="574.8" stroke="#26262a" stroke-width="5" stroke-linecap="butt"/>
<line x1="1699.1" y1="591.0" x2="1714.1" y2="591.0" stroke="#26262a" stroke-width="5" stroke-linecap="butt"/>
<line x1="1699.1" y1="608.2" x2="1714.1" y2="608.2" stroke="#26262a" stroke-width="5" stroke-linecap="butt"/>
<line x1="1699.1" y1="624.4" x2="1714.1" y2="624.4" stroke="#26262a" stroke-width="5" stroke-linecap="butt"/>
<line x1="1688.1" y1="640.6" x2="1714.1" y2="640.6" stroke="#26262a" stroke-width="5" stroke-linecap="butt"/>
<line x1="1699.1" y1="663.9" x2="1714.1" y2="663.9" stroke="#26262a" stroke-width="5" stroke-linecap="butt"/>
<line x1="1699.1" y1="680.1" x2="1714.1" y2="680.1" stroke="#26262a" stroke-width="5" stroke-linecap="butt"/>
<line x1="1699.1" y1="696.3" x2="1714.1" y2="696.3" stroke="#26262a" stroke-width="5" stroke-linecap="butt"/>
<line x1="1699.1" y1="712.5" x2="1714.1" y2="712.5" stroke="#26262a" stroke-width="5" stroke-linecap="butt"/>
<line x1="1688.1" y1="730.0" x2="1714.1" y2="730.0" stroke="#26262a" stroke-width="5" stroke-linecap="butt"/>
<line x1="1699.1" y1="758.0" x2="1714.1" y2="758.0" stroke="#26262a" stroke-width="5" stroke-linecap="butt"/>
<line x1="1699.1" y1="774.2" x2="1714.1" y2="774.2" stroke="#26262a" stroke-width="5" stroke-linecap="butt"/>
<line x1="1699.1" y1="790.4" x2="1714.1" y2="790.4" stroke="#26262a" stroke-width="5" stroke-linecap="butt"/>
<line x1="1699.1" y1="807.6" x2="1714.1" y2="807.6" stroke="#26262a" stroke-width="5" stroke-linecap="butt"/>
<line x1="1688.1" y1="823.8" x2="1714.1" y2="823.8" stroke="#26262a" stroke-width="5" stroke-linecap="butt"/>
<line x1="1699.1" y1="847.0" x2="1714.1" y2="847.0" stroke="#26262a" stroke-width="5" stroke-linecap="butt"/>
<line x1="1699.1" y1="863.2" x2="1714.1" y2="863.2" stroke="#26262a" stroke-width="5" stroke-linecap="butt"/>
<line x1="1699.1" y1="879.4" x2="1714.1" y2="879.4" stroke="#26262a" stroke-width="5" stroke-linecap="butt"/>
<line x1="1699.1" y1="896.6" x2="1714.1" y2="896.6" stroke="#26262a" stroke-width="5" stroke-linecap="butt"/>
<line x1="1688.1" y1="912.8" x2="1714.1" y2="912.8" stroke="#26262a" stroke-width="5" stroke-linecap="butt"/>
<line x1="1718.5" y1="913.5" x2="1718.5" y2="940.5" stroke="#26262a" stroke-width="5" stroke-linecap="butt"/>
<line x1="1765.5" y1="913.5" x2="1765.5" y2="930.5" stroke="#26262a" stroke-width="5" stroke-linecap="butt"/>
<line x1="1793.0" y1="913.5" x2="1793.0" y2="930.5" stroke="#26262a" stroke-width="5" stroke-linecap="butt"/>
<line x1="1812.5" y1="913.5" x2="1812.5" y2="930.5" stroke="#26262a" stroke-width="5" stroke-linecap="butt"/>
<line x1="1827.7" y1="913.5" x2="1827.7" y2="930.5" stroke="#26262a" stroke-width="5" stroke-linecap="butt"/>
<line x1="1840.0" y1="913.5" x2="1840.0" y2="930.5" stroke="#26262a" stroke-width="5" stroke-linecap="butt"/>
<line x1="1850.5" y1="913.5" x2="1850.5" y2="930.5" stroke="#26262a" stroke-width="5" stroke-linecap="butt"/>
<line x1="1859.6" y1="913.5" x2="1859.6" y2="930.5" stroke="#26262a" stroke-width="5" stroke-linecap="butt"/>
<line x1="1867.6" y1="913.5" x2="1867.6" y2="930.5" stroke="#26262a" stroke-width="5" stroke-linecap="butt"/>
<line x1="1874.7" y1="913.5" x2="1874.7" y2="940.5" stroke="#26262a" stroke-width="5" stroke-linecap="butt"/>
<line x1="1919.6" y1="913.5" x2="1919.6" y2="930.5" stroke="#26262a" stroke-width="5" stroke-linecap="butt"/>
<line x1="1945.9" y1="913.5" x2="1945.9" y2="930.5" stroke="#26262a" stroke-width="5" stroke-linecap="butt"/>
<line x1="1964.6" y1="913.5" x2="1964.6" y2="930.5" stroke="#26262a" stroke-width="5" stroke-linecap="butt"/>
<line x1="1979.1" y1="913.5" x2="1979.1" y2="930.5" stroke="#26262a" stroke-width="5" stroke-linecap="butt"/>
<line x1="1990.9" y1="913.5" x2="1990.9" y2="930.5" stroke="#26262a" stroke-width="5" stroke-linecap="butt"/>
<line x1="2000.9" y1="913.5" x2="2000.9" y2="930.5" stroke="#26262a" stroke-width="5" stroke-linecap="butt"/>
<line x1="2009.5" y1="913.5" x2="2009.5" y2="930.5" stroke="#26262a" stroke-width="5" stroke-linecap="butt"/>
<line x1="2017.2" y1="913.5" x2="2017.2" y2="930.5" stroke="#26262a" stroke-width="5" stroke-linecap="butt"/>
<line x1="2024.0" y1="913.5" x2="2024.0" y2="940.5" stroke="#26262a" stroke-width="5" stroke-linecap="butt"/>
<line x1="2070.7" y1="913.5" x2="2070.7" y2="930.5" stroke="#26262a" stroke-width="5" stroke-linecap="butt"/>
<line x1="2098.0" y1="913.5" x2="2098.0" y2="930.5" stroke="#26262a" stroke-width="5" stroke-linecap="butt"/>
<line x1="2117.3" y1="913.5" x2="2117.3" y2="930.5" stroke="#26262a" stroke-width="5" stroke-linecap="butt"/>
<line x1="2132.3" y1="913.5" x2="2132.3" y2="930.5" stroke="#26262a" stroke-width="5" stroke-linecap="butt"/>
<line x1="2144.6" y1="913.5" x2="2144.6" y2="930.5" stroke="#26262a" stroke-width="5" stroke-linecap="butt"/>
<line x1="2155.0" y1="913.5" x2="2155.0" y2="930.5" stroke="#26262a" stroke-width="5" stroke-linecap="butt"/>
<line x1="2164.0" y1="913.5" x2="2164.0" y2="930.5" stroke="#26262a" stroke-width="5" stroke-linecap="butt"/>
<line x1="2171.9" y1="913.5" x2="2171.9" y2="930.5" stroke="#26262a" stroke-width="5" stroke-linecap="butt"/>
<line x1="2179.0" y1="913.5" x2="2179.0" y2="940.5" stroke="#26262a" stroke-width="5" stroke-linecap="butt"/>
<line x1="2224.4" y1="913.5" x2="2224.4" y2="930.5" stroke="#26262a" stroke-width="5" stroke-linecap="butt"/>
<line x1="2250.9" y1="913.5" x2="2250.9" y2="930.5" stroke="#26262a" stroke-width="5" stroke-linecap="butt"/>
<line x1="2269.7" y1="913.5" x2="2269.7" y2="930.5" stroke="#26262a" stroke-width="5" stroke-linecap="butt"/>
<line x1="2284.3" y1="913.5" x2="2284.3" y2="930.5" stroke="#26262a" stroke-width="5" stroke-linecap="butt"/>
<line x1="2296.3" y1="913.5" x2="2296.3" y2="930.5" stroke="#26262a" stroke-width="5" stroke-linecap="butt"/>
<line x1="2306.4" y1="913.5" x2="2306.4" y2="930.5" stroke="#26262a" stroke-width="5" stroke-linecap="butt"/>
<line x1="2315.1" y1="913.5" x2="2315.1" y2="930.5" stroke="#26262a" stroke-width="5" stroke-linecap="butt"/>
<line x1="2322.8" y1="913.5" x2="2322.8" y2="930.5" stroke="#26262a" stroke-width="5" stroke-linecap="butt"/>
<line x1="2329.7" y1="913.5" x2="2329.7" y2="940.5" stroke="#26262a" stroke-width="5" stroke-linecap="butt"/>
<g>
<text x="1673.5" y="999.2" font-size="51" text-anchor="start" fill="#333336" font-weight="normal">10<tspan x="1727.5" dy="-21.5">0</tspan></text>
</g>
<g>
<text x="1829.7" y="999.2" font-size="51" text-anchor="start" fill="#333336" font-weight="normal">10<tspan x="1883.7" dy="-21.5">1</tspan></text>
</g>
<g>
<text x="1979.0" y="999.2" font-size="51" text-anchor="start" fill="#333336" font-weight="normal">10<tspan x="2033.0" dy="-21.5">2</tspan></text>
</g>
<g>
<text x="2134.0" y="999.2" font-size="51" text-anchor="start" fill="#333336" font-weight="normal">10<tspan x="2188.0" dy="-21.5">3</tspan></text>
</g>
<g>
<text x="2284.7" y="999.2" font-size="51" text-anchor="start" fill="#333336" font-weight="normal">10<tspan x="2338.7" dy="-21.5">4</tspan></text>
</g>
<text x="1950.5" y="1047.7" font-size="48" text-anchor="start" fill="#333336" font-weight="normal">FL1-H</text>
<text transform="translate(1618.0 686.0) rotate(-90)" font-size="49" text-anchor="middle" fill="#333336" font-weight="normal">Counts</text>
<text transform="translate(1673.5 452.0) rotate(-90) scale(1 1.04)" font-size="50.5" text-anchor="middle" fill="#333336" font-weight="normal">150</text>
<text transform="translate(1673.5 907.0) rotate(-90) scale(1 1.04)" font-size="50.5" text-anchor="middle" fill="#333336" font-weight="normal">0</text>
<text transform="translate(2293.5 518.5) scale(1 1.04)" font-size="70.5" text-anchor="end" fill="#111" font-weight="normal">22.61</text>
<text x="42.5" y="1351.0" font-size="71" text-anchor="start" fill="#0d0d0d" font-weight="normal">(B)</text>
<line x1="839.3" y1="1459.3" x2="839.3" y2="2287.2" stroke="#2e2e2e" stroke-width="4.5" stroke-linecap="butt"/>
<line x1="820.0" y1="2285.0" x2="1986.0" y2="2285.0" stroke="#2e2e2e" stroke-width="4.5" stroke-linecap="butt"/>
<text x="799.8" y="2300.2" font-size="46.5" text-anchor="end" fill="#2b2b2b" font-weight="normal">0</text>
<line x1="820.0" y1="2147.8" x2="839.3" y2="2147.8" stroke="#2e2e2e" stroke-width="4.5" stroke-linecap="butt"/>
<text x="799.8" y="2162.9" font-size="46.5" text-anchor="end" fill="#2b2b2b" font-weight="normal">10</text>
<line x1="820.0" y1="2010.5" x2="839.3" y2="2010.5" stroke="#2e2e2e" stroke-width="4.5" stroke-linecap="butt"/>
<text x="799.8" y="2025.7" font-size="46.5" text-anchor="end" fill="#2b2b2b" font-weight="normal">20</text>
<line x1="820.0" y1="1873.2" x2="839.3" y2="1873.2" stroke="#2e2e2e" stroke-width="4.5" stroke-linecap="butt"/>
<text x="799.8" y="1888.5" font-size="46.5" text-anchor="end" fill="#2b2b2b" font-weight="normal">30</text>
<line x1="820.0" y1="1736.0" x2="839.3" y2="1736.0" stroke="#2e2e2e" stroke-width="4.5" stroke-linecap="butt"/>
<text x="799.8" y="1751.2" font-size="46.5" text-anchor="end" fill="#2b2b2b" font-weight="normal">40</text>
<line x1="820.0" y1="1598.8" x2="839.3" y2="1598.8" stroke="#2e2e2e" stroke-width="4.5" stroke-linecap="butt"/>
<text x="799.8" y="1614.0" font-size="46.5" text-anchor="end" fill="#2b2b2b" font-weight="normal">50</text>
<line x1="820.0" y1="1461.5" x2="839.3" y2="1461.5" stroke="#2e2e2e" stroke-width="4.5" stroke-linecap="butt"/>
<text x="799.8" y="1476.7" font-size="46.5" text-anchor="end" fill="#2b2b2b" font-weight="normal">60</text>
<text transform="translate(708.0 1875.0) rotate(-90)" font-size="71.8" text-anchor="middle" fill="#161616" font-weight="normal">DCF-DA fluorescence</text>
<path d="M1039.4 2285.0 L1039.4 1972.5 L1211.6 1972.5 L1211.6 2285.0" fill="#fff" stroke="#2e2e2e" stroke-width="4.5"/>
<line x1="1125.5" y1="1972.5" x2="1125.5" y2="1963.5" stroke="#2e2e2e" stroke-width="4.5" stroke-linecap="butt"/>
<line x1="1112.0" y1="1963.5" x2="1139.0" y2="1963.5" stroke="#2e2e2e" stroke-width="4.5" stroke-linecap="butt"/>
<path d="M1326.4 2285.0 L1326.4 1631.8 L1498.3 1631.8 L1498.3 2285.0" fill="#fff" stroke="#2e2e2e" stroke-width="4.5"/>
<line x1="1412.3" y1="1631.8" x2="1412.3" y2="1600.7" stroke="#2e2e2e" stroke-width="4.5" stroke-linecap="butt"/>
<line x1="1398.8" y1="1600.7" x2="1425.8" y2="1600.7" stroke="#2e2e2e" stroke-width="4.5" stroke-linecap="butt"/>
<path d="M1611.3 2285.0 L1611.3 1972.5 L1783.6 1972.5 L1783.6 2285.0" fill="#fff" stroke="#2e2e2e" stroke-width="4.5"/>
<line x1="1697.4" y1="1972.5" x2="1697.4" y2="1963.5" stroke="#2e2e2e" stroke-width="4.5" stroke-linecap="butt"/>
<line x1="1683.9" y1="1963.5" x2="1710.9" y2="1963.5" stroke="#2e2e2e" stroke-width="4.5" stroke-linecap="butt"/>
<text x="1698.5" y="1933.7" font-size="68" text-anchor="middle" fill="#161616" font-weight="normal" stroke="#161616" stroke-width="0.6">*</text>
<text x="1698.5" y="1967.3" font-size="68" text-anchor="middle" fill="#161616" font-weight="normal" stroke="#161616" stroke-width="0.6">*</text>
<text x="862.8" y="2408.8" font-size="64.3" text-anchor="end" fill="#161616" font-weight="normal">Oridonin (30 <tspan font-family='"Liberation Serif", "DejaVu Serif", serif' font-size="1.08em">μ</tspan>M)</text>
<text x="859.8" y="2528.6" font-size="65.3" text-anchor="end" fill="#161616" font-weight="normal">NAC (5 mM)</text>
<text x="1122.3" y="2412.4" font-size="80" text-anchor="middle" fill="#151515" font-weight="normal">-</text>
<text x="1412.6" y="2406.5" font-size="70" text-anchor="middle" fill="#151515" font-weight="normal" stroke="#151515" stroke-width="1">+</text>
<text x="1696.0" y="2406.5" font-size="70" text-anchor="middle" fill="#151515" font-weight="normal" stroke="#151515" stroke-width="1">+</text>
<text x="1122.3" y="2538.4" font-size="80" text-anchor="middle" fill="#151515" font-weight="normal">-</text>
<text x="1411.6" y="2538.4" font-size="80" text-anchor="middle" fill="#151515" font-weight="normal">-</text>
<text x="1696.0" y="2532.5" font-size="70" text-anchor="middle" fill="#151515" font-weight="normal" stroke="#151515" stroke-width="1">+</text>
<text x="42.0" y="2782.6" font-size="71" text-anchor="start" fill="#0d0d0d" font-weight="normal">(C)</text>
<line x1="787.3" y1="2925.2" x2="787.3" y2="3847.0" stroke="#262626" stroke-width="5" stroke-linecap="butt"/>
<line x1="766.4" y1="3844.5" x2="2064.0" y2="3844.5" stroke="#2e2e2e" stroke-width="4.5" stroke-linecap="butt"/>
<text transform="translate(739.4 3864.2) scale(1 1.05)" font-size="57" text-anchor="end" fill="#1c1c1c" font-weight="normal">0</text>
<line x1="766.4" y1="3729.9" x2="787.3" y2="3729.9" stroke="#2e2e2e" stroke-width="4.5" stroke-linecap="butt"/>
<text transform="translate(739.4 3749.6) scale(1 1.05)" font-size="57" text-anchor="end" fill="#1c1c1c" font-weight="normal">20</text>
<line x1="766.4" y1="3615.3" x2="787.3" y2="3615.3" stroke="#2e2e2e" stroke-width="4.5" stroke-linecap="butt"/>
<text transform="translate(739.4 3635.0) scale(1 1.05)" font-size="57" text-anchor="end" fill="#1c1c1c" font-weight="normal">40</text>
<line x1="766.4" y1="3500.7" x2="787.3" y2="3500.7" stroke="#2e2e2e" stroke-width="4.5" stroke-linecap="butt"/>
<text transform="translate(739.4 3520.4) scale(1 1.05)" font-size="57" text-anchor="end" fill="#1c1c1c" font-weight="normal">60</text>
<line x1="766.4" y1="3386.1" x2="787.3" y2="3386.1" stroke="#2e2e2e" stroke-width="4.5" stroke-linecap="butt"/>
<text transform="translate(739.4 3405.8) scale(1 1.05)" font-size="57" text-anchor="end" fill="#1c1c1c" font-weight="normal">80</text>
<line x1="766.4" y1="3271.5" x2="787.3" y2="3271.5" stroke="#2e2e2e" stroke-width="4.5" stroke-linecap="butt"/>
<text transform="translate(739.4 3291.2) scale(1 1.05)" font-size="57" text-anchor="end" fill="#1c1c1c" font-weight="normal">100</text>
<line x1="766.4" y1="3156.9" x2="787.3" y2="3156.9" stroke="#2e2e2e" stroke-width="4.5" stroke-linecap="butt"/>
<text transform="translate(739.4 3176.6) scale(1 1.05)" font-size="57" text-anchor="end" fill="#1c1c1c" font-weight="normal">120</text>
<line x1="766.4" y1="3042.3" x2="787.3" y2="3042.3" stroke="#2e2e2e" stroke-width="4.5" stroke-linecap="butt"/>
<text transform="translate(739.4 3062.0) scale(1 1.05)" font-size="57" text-anchor="end" fill="#1c1c1c" font-weight="normal">140</text>
<line x1="766.4" y1="2927.7" x2="787.3" y2="2927.7" stroke="#2e2e2e" stroke-width="4.5" stroke-linecap="butt"/>
<text transform="translate(739.4 2947.4) scale(1 1.05)" font-size="57" text-anchor="end" fill="#1c1c1c" font-weight="normal">160</text>
<text transform="translate(598.0 3388.2) rotate(-90) scale(1 1.04)" font-size="72.6" text-anchor="middle" fill="#161616" font-weight="normal">Cell viability (%)</text>
<path d="M1078.2 3844.5 L1078.2 3774.5 L1146.9 3774.5 L1146.9 3844.5" fill="#fff" stroke="#1e1e22" stroke-width="4.5"/>
<line x1="1111.1" y1="3774.5" x2="1111.1" y2="3768.0" stroke="#1a1a1a" stroke-width="4.5" stroke-linecap="butt"/>
<line x1="1095.5" y1="3768.0" x2="1126.7" y2="3768.0" stroke="#1a1a1a" stroke-width="4.5" stroke-linecap="butt"/>
<path d="M1009.8 3844.5 L1009.8 3530.8 L1078.2 3530.8 L1078.2 3844.5" fill="#9192a8" stroke="#1e1e22" stroke-width="4.5"/>
<line x1="1042.5" y1="3530.8" x2="1042.5" y2="3516.4" stroke="#1a1a1a" stroke-width="4.5" stroke-linecap="butt"/>
<line x1="1026.9" y1="3516.4" x2="1058.1" y2="3516.4" stroke="#1a1a1a" stroke-width="4.5" stroke-linecap="butt"/>
<rect x="935.2" y="3268.7" width="74.8" height="575.8" fill="#030303"/>
<path d="M1333.0 3844.5 L1333.0 3590.4 L1401.7 3590.4 L1401.7 3844.5" fill="#fff" stroke="#1e1e22" stroke-width="4.5"/>
<line x1="1365.8" y1="3590.4" x2="1365.8" y2="3576.9" stroke="#1a1a1a" stroke-width="4.5" stroke-linecap="butt"/>
<line x1="1350.2" y1="3576.9" x2="1381.4" y2="3576.9" stroke="#1a1a1a" stroke-width="4.5" stroke-linecap="butt"/>
<path d="M1264.6 3844.5 L1264.6 3415.0 L1333.0 3415.0 L1333.0 3844.5" fill="#9192a8" stroke="#1e1e22" stroke-width="4.5"/>
<line x1="1297.3" y1="3415.0" x2="1297.3" y2="3390.3" stroke="#1a1a1a" stroke-width="4.5" stroke-linecap="butt"/>
<line x1="1281.7" y1="3390.3" x2="1312.9" y2="3390.3" stroke="#1a1a1a" stroke-width="4.5" stroke-linecap="butt"/>
<rect x="1190.0" y="3295.5" width="74.8" height="549.0" fill="#030303"/>
<line x1="1227.8" y1="3296.0" x2="1227.8" y2="3284.0" stroke="#1a1a1a" stroke-width="4.5" stroke-linecap="butt"/>
<line x1="1212.2" y1="3284.0" x2="1243.4" y2="3284.0" stroke="#1a1a1a" stroke-width="4.5" stroke-linecap="butt"/>
<path d="M1587.3 3844.5 L1587.3 3351.4 L1656.0 3351.4 L1656.0 3844.5" fill="#fff" stroke="#1e1e22" stroke-width="4.5"/>
<line x1="1620.2" y1="3351.4" x2="1620.2" y2="3326.0" stroke="#1a1a1a" stroke-width="4.5" stroke-linecap="butt"/>
<line x1="1604.6" y1="3326.0" x2="1635.8" y2="3326.0" stroke="#1a1a1a" stroke-width="4.5" stroke-linecap="butt"/>
<path d="M1518.9 3844.5 L1518.9 3341.1 L1587.3 3341.1 L1587.3 3844.5" fill="#9192a8" stroke="#1e1e22" stroke-width="4.5"/>
<line x1="1551.6" y1="3341.1" x2="1551.6" y2="3305.4" stroke="#1a1a1a" stroke-width="4.5" stroke-linecap="butt"/>
<line x1="1536.0" y1="3305.4" x2="1567.2" y2="3305.4" stroke="#1a1a1a" stroke-width="4.5" stroke-linecap="butt"/>
<rect x="1444.3" y="3245.5" width="74.8" height="599.0" fill="#030303"/>
<line x1="1482.1" y1="3246.0" x2="1482.1" y2="3218.6" stroke="#1a1a1a" stroke-width="4.5" stroke-linecap="butt"/>
<line x1="1466.5" y1="3218.6" x2="1497.7" y2="3218.6" stroke="#1a1a1a" stroke-width="4.5" stroke-linecap="butt"/>
<path d="M1842.0 3844.5 L1842.0 3152.0 L1910.7 3152.0 L1910.7 3844.5" fill="#fff" stroke="#1e1e22" stroke-width="4.5"/>
<line x1="1874.8" y1="3152.0" x2="1874.8" y2="3104.8" stroke="#1a1a1a" stroke-width="4.5" stroke-linecap="butt"/>
<line x1="1859.2" y1="3104.8" x2="1890.4" y2="3104.8" stroke="#1a1a1a" stroke-width="4.5" stroke-linecap="butt"/>
<path d="M1773.6 3844.5 L1773.6 3104.8 L1842.0 3104.8 L1842.0 3844.5" fill="#9192a8" stroke="#1e1e22" stroke-width="4.5"/>
<line x1="1806.3" y1="3104.8" x2="1806.3" y2="3058.4" stroke="#1a1a1a" stroke-width="4.5" stroke-linecap="butt"/>
<line x1="1790.7" y1="3058.4" x2="1821.9" y2="3058.4" stroke="#1a1a1a" stroke-width="4.5" stroke-linecap="butt"/>
<rect x="1699.0" y="3035.3" width="74.8" height="809.2" fill="#030303"/>
<line x1="1736.8" y1="3035.8" x2="1736.8" y2="2983.6" stroke="#1a1a1a" stroke-width="4.5" stroke-linecap="butt"/>
<line x1="1721.2" y1="2983.6" x2="1752.4" y2="2983.6" stroke="#1a1a1a" stroke-width="4.5" stroke-linecap="butt"/>
<line x1="766.4" y1="3844.5" x2="2064.0" y2="3844.5" stroke="#2e2e2e" stroke-width="4.5" stroke-linecap="butt"/>
<text x="1364.0" y="3558.5" font-size="68" text-anchor="middle" fill="#161616" font-weight="normal" stroke="#161616" stroke-width="0.6">*</text>
<text x="1364.0" y="3588.4" font-size="68" text-anchor="middle" fill="#161616" font-weight="normal" stroke="#161616" stroke-width="0.6">*</text>
<text x="1550.2" y="3318.0" font-size="68" text-anchor="middle" fill="#161616" font-weight="normal" stroke="#161616" stroke-width="0.6">*</text>
<text x="1620.0" y="3277.0" font-size="68" text-anchor="middle" fill="#161616" font-weight="normal" stroke="#161616" stroke-width="0.6">*</text>
<text x="1620.0" y="3306.9" font-size="68" text-anchor="middle" fill="#161616" font-weight="normal" stroke="#161616" stroke-width="0.6">*</text>
<text x="1620.0" y="3336.7" font-size="68" text-anchor="middle" fill="#161616" font-weight="normal" stroke="#161616" stroke-width="0.6">*</text>
<text x="1803.3" y="3009.7" font-size="68" text-anchor="middle" fill="#161616" font-weight="normal" stroke="#161616" stroke-width="0.6">*</text>
<text x="1803.3" y="3039.6" font-size="68" text-anchor="middle" fill="#161616" font-weight="normal" stroke="#161616" stroke-width="0.6">*</text>
<text x="1803.3" y="3069.7" font-size="68" text-anchor="middle" fill="#161616" font-weight="normal" stroke="#161616" stroke-width="0.6">*</text>
<text x="1873.4" y="3055.7" font-size="68" text-anchor="middle" fill="#161616" font-weight="normal" stroke="#161616" stroke-width="0.6">*</text>
<text x="1873.4" y="3085.6" font-size="68" text-anchor="middle" fill="#161616" font-weight="normal" stroke="#161616" stroke-width="0.6">*</text>
<text x="1873.4" y="3115.8" font-size="68" text-anchor="middle" fill="#161616" font-weight="normal" stroke="#161616" stroke-width="0.6">*</text>
<text transform="translate(887.0 3962.2) scale(1 1.03)" font-size="65" text-anchor="end" fill="#161616" font-weight="normal">Oridonin (<tspan font-family='"Liberation Serif", "DejaVu Serif", serif' font-size="1.08em">μ</tspan>M)</text>
<text transform="translate(887.0 4086.8) scale(1 1.02)" font-size="65.3" text-anchor="end" fill="#161616" font-weight="normal">NAC (mM)</text>
<text transform="translate(970.9 3967.0) scale(1 1.11)" font-size="63" text-anchor="middle" fill="#1c1c1c" font-weight="normal">0</text>
<text transform="translate(1040.6 3967.0) scale(1 1.11)" font-size="63" text-anchor="middle" fill="#1c1c1c" font-weight="normal">15</text>
<text transform="translate(1122.8 3967.0) scale(1 1.11)" font-size="63" text-anchor="middle" fill="#1c1c1c" font-weight="normal">30</text>
<line x1="939.9" y1="4005.8" x2="1154.4" y2="4005.8" stroke="#222" stroke-width="4.6" stroke-linecap="butt"/>
<text transform="translate(1223.5 3967.0) scale(1 1.11)" font-size="63" text-anchor="middle" fill="#1c1c1c" font-weight="normal">0</text>
<text transform="translate(1293.9 3967.0) scale(1 1.11)" font-size="63" text-anchor="middle" fill="#1c1c1c" font-weight="normal">15</text>
<text transform="translate(1376.0 3967.0) scale(1 1.11)" font-size="63" text-anchor="middle" fill="#1c1c1c" font-weight="normal">30</text>
<line x1="1187.4" y1="4005.8" x2="1402.7" y2="4005.8" stroke="#222" stroke-width="4.6" stroke-linecap="butt"/>
<text transform="translate(1480.1 3967.0) scale(1 1.11)" font-size="63" text-anchor="middle" fill="#1c1c1c" font-weight="normal">0</text>
<text transform="translate(1549.6 3967.0) scale(1 1.11)" font-size="63" text-anchor="middle" fill="#1c1c1c" font-weight="normal">15</text>
<text transform="translate(1631.0 3967.0) scale(1 1.11)" font-size="63" text-anchor="middle" fill="#1c1c1c" font-weight="normal">30</text>
<line x1="1443.2" y1="4005.8" x2="1657.7" y2="4005.8" stroke="#222" stroke-width="4.6" stroke-linecap="butt"/>
<text transform="translate(1727.5 3967.0) scale(1 1.11)" font-size="63" text-anchor="middle" fill="#1c1c1c" font-weight="normal">0</text>
<text transform="translate(1799.0 3967.0) scale(1 1.11)" font-size="63" text-anchor="middle" fill="#1c1c1c" font-weight="normal">15</text>
<text transform="translate(1879.5 3967.0) scale(1 1.11)" font-size="63" text-anchor="middle" fill="#1c1c1c" font-weight="normal">30</text>
<line x1="1699.0" y1="4005.8" x2="1913.6" y2="4005.8" stroke="#222" stroke-width="4.6" stroke-linecap="butt"/>
<text transform="translate(1044.0 4093.0) scale(1 1.11)" font-size="63" text-anchor="middle" fill="#1c1c1c" font-weight="normal">0</text>
<text transform="translate(1298.8 4093.0) scale(1 1.11)" font-size="63" text-anchor="middle" fill="#1c1c1c" font-weight="normal">0.1</text>
<text transform="translate(1557.0 4093.0) scale(1 1.11)" font-size="63" text-anchor="middle" fill="#1c1c1c" font-weight="normal">1</text>
<text transform="translate(1812.1 4093.0) scale(1 1.11)" font-size="63" text-anchor="middle" fill="#1c1c1c" font-weight="normal">5</text>
</svg>
</body>
</html>
